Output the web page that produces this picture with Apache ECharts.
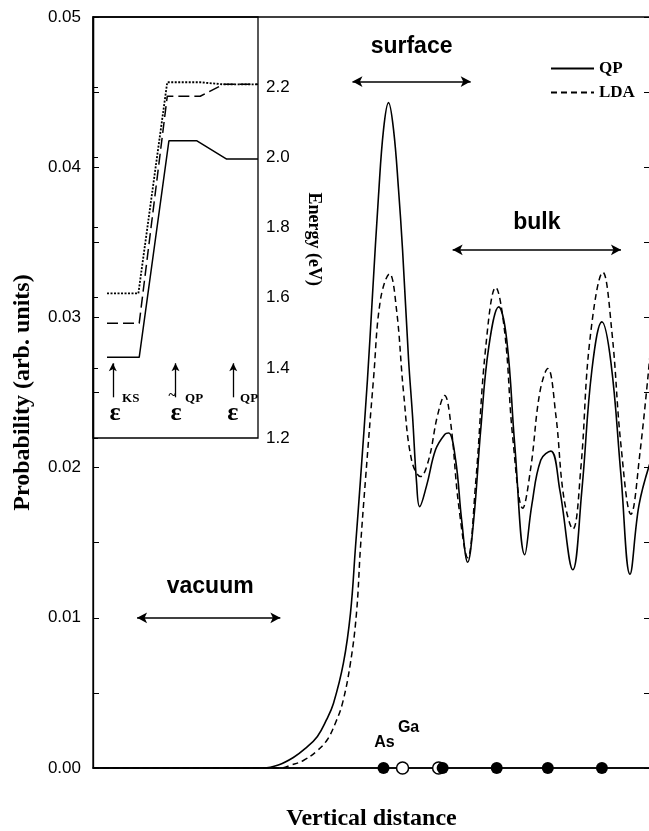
<!DOCTYPE html>
<html>
<head>
<meta charset="utf-8">
<script src="https://cdn.jsdelivr.net/npm/echarts@6/dist/echarts.min.js"></script>
<style>
  html, body { margin: 0; padding: 0; background: #fff; }
  #main { width: 649px; height: 831px; }
</style>
</head>
<body>
<div id="main"></div>
<script>
// main panel: probability vs vertical distance (arbitrary distance units)
var qpCurve = [
  [0, 0], [150, 0], [170, 0], [185, 0.0002], [200, 0.0007], [212, 0.0013], [224, 0.0021],
  [233, 0.0032], [240, 0.0043], [250, 0.0070], [257, 0.0103], [262, 0.0147], [267, 0.0192],
  [274, 0.0259], [279, 0.0315], [285, 0.0381], [290, 0.0425], [295, 0.0443], [300, 0.0425],
  [305, 0.0385], [309, 0.0345], [315, 0.0272], [319, 0.0234], [323, 0.0190], [326, 0.0174],
  [333, 0.0188], [342, 0.0212], [351, 0.0222], [355, 0.0223], [362, 0.0205], [368, 0.0165],
  [374, 0.0137], [380, 0.0165], [387, 0.0225], [395, 0.0280], [405, 0.0307], [413, 0.0285],
  [421, 0.0215], [431, 0.0142], [438, 0.0175], [447, 0.0205], [457, 0.0211], [466, 0.0185],
  [479, 0.0132], [488, 0.0185], [498, 0.0265], [508, 0.0297], [517, 0.0270], [527, 0.0195],
  [536, 0.0129], [545, 0.0175], [556, 0.0203]
];
var ldaCurve = [
  [0, 0], [150, 0], [187, 0], [198, 0.0002], [210, 0.0005], [223, 0.0011], [234, 0.0019],
  [242, 0.0030], [249, 0.0043], [257, 0.0070], [263, 0.0103], [267, 0.0147], [272, 0.0192],
  [280, 0.0259], [287, 0.0312], [296, 0.0329], [303, 0.0305], [310, 0.0250], [318, 0.0205],
  [327, 0.0194], [335, 0.0205], [344, 0.0235], [351, 0.0248], [357, 0.0230], [365, 0.0175],
  [374, 0.0140], [382, 0.0190], [392, 0.0280], [402, 0.0320], [411, 0.0290], [419, 0.0220],
  [429, 0.0173], [437, 0.0200], [446, 0.0250], [454, 0.0266], [462, 0.0235], [470, 0.0180],
  [479, 0.0159], [487, 0.0200], [496, 0.0285], [509, 0.0330], [518, 0.0290], [527, 0.0215],
  [537, 0.0169], [546, 0.0210], [556, 0.0275]
];
// atom positions along the distance axis
var atomsFilled = [290, 349, 403, 454, 508];
var atomsOpen = [309, 345];

// inset: energy levels (eV) for eps^KS, eps~^QP, eps^QP
var levelDotted = [[0.85, 1.612], [2.75, 1.612], [4.5, 2.214], [6.5, 2.214], [7.9, 2.208], [10, 2.208]];
var levelDashed = [[0.85, 1.527], [2.8, 1.527], [4.5, 2.174], [6.5, 2.174], [7.9, 2.208], [10, 2.208]];
var levelSolid = [[0.85, 1.43], [2.8, 1.43], [4.6, 2.047], [6.3, 2.047], [8.1, 1.995], [10, 1.995]];
var levelArrowX = [1.2, 5.0, 8.5];

var serif = 'Liberation Serif';
var sans = 'Liberation Sans';

var chart = echarts.init(document.getElementById('main'));

var option = {
  backgroundColor: '#fff',
  animation: false,
  legend: {
    data: ['QP', 'LDA'],
    orient: 'vertical',
    left: 545, top: 55,
    itemWidth: 43, itemHeight: 14, itemGap: 7,
    itemStyle: { opacity: 0 },
    textStyle: { fontFamily: serif, fontWeight: 'bold', fontSize: 17, color: '#000' }
  },
  grid: [
    { left: 93, top: 17, right: -1, bottom: 63, outerBoundsMode: 'none',
      show: true, borderColor: '#000', borderWidth: 1.3 },
    { left: 93, top: 17, width: 165, height: 421, outerBoundsMode: 'none',
      show: true, borderColor: '#000', borderWidth: 1.3 }
  ],
  xAxis: [
    {
      gridIndex: 0, type: 'value', min: 0, max: 556,
      axisLine: { lineStyle: { color: '#000', width: 1.5 } },
      axisTick: { show: false }, axisLabel: { show: false }, splitLine: { show: false },
      name: 'Vertical distance', nameLocation: 'middle', nameGap: 39,
      nameTextStyle: { fontFamily: serif, fontWeight: 'bold', fontSize: 24, color: '#000' }
    },
    { gridIndex: 1, type: 'value', min: 0, max: 10, show: false }
  ],
  yAxis: [
    {
      gridIndex: 0, type: 'value', min: 0, max: 0.05, interval: 0.005,
      axisLine: { show: true, lineStyle: { color: '#000', width: 1.3 } },
      axisTick: { inside: true, length: 6, lineStyle: { color: '#000' } },
      splitLine: { show: false },
      axisLabel: {
        color: '#000', fontFamily: sans, fontSize: 17, margin: 12,
        formatter: function (v) { return Math.round(v * 200) % 2 === 0 ? v.toFixed(2) : ''; }
      },
      name: 'Probability (arb. units)', nameLocation: 'middle', nameGap: 58,
      nameTextStyle: { fontFamily: serif, fontWeight: 'bold', fontSize: 24, color: '#000' }
    },
    {
      gridIndex: 0, type: 'value', position: 'right', min: 0, max: 0.05, interval: 0.005,
      axisLine: { show: true, lineStyle: { color: '#000' } },
      axisTick: { inside: true, length: 6, lineStyle: { color: '#000' } },
      axisLabel: { show: false }, splitLine: { show: false }
    },
    {
      gridIndex: 1, type: 'value', position: 'right', min: 1.2, max: 2.4, interval: 0.2,
      axisLine: { show: true, lineStyle: { color: '#000', width: 1.3 } },
      axisTick: { length: 5, lineStyle: { color: '#000' } },
      splitLine: { show: false },
      axisLabel: {
        color: '#000', fontFamily: sans, fontSize: 17, margin: 8, showMaxLabel: false,
        formatter: function (v) { return v.toFixed(1); }
      }
    }
  ],
  series: [
    {
      name: 'QP', type: 'line', xAxisIndex: 0, yAxisIndex: 0, data: qpCurve,
      smooth: 0.4, symbol: 'none', z: 3,
      itemStyle: { color: '#000' },
      lineStyle: { color: '#000', width: 1.6, type: 'solid' },
      markLine: {
        silent: true, symbol: ['arrow', 'arrow'], symbolSize: [8, 10],
        label: { show: false },
        lineStyle: { color: '#000', width: 1.5, type: 'solid' },
        data: [
          [{ coord: [259, 0.0457] }, { coord: [377, 0.0457] }],
          [{ coord: [359, 0.0345] }, { coord: [527, 0.0345] }],
          [{ coord: [44, 0.0100] }, { coord: [187, 0.0100] }]
        ]
      }
    },
    {
      name: 'LDA', type: 'line', xAxisIndex: 0, yAxisIndex: 0, data: ldaCurve,
      smooth: 0.4, symbol: 'none', z: 3,
      itemStyle: { color: '#000' },
      lineStyle: { color: '#000', width: 1.5, type: [6, 4] }
    },
    {
      name: 'atoms', type: 'scatter', xAxisIndex: 0, yAxisIndex: 0,
      data: atomsOpen.map(function (x) { return [x, 0]; }),
      symbolSize: 12, z: 4,
      itemStyle: { color: '#fff', borderColor: '#000', borderWidth: 1.5, opacity: 1 }
    },
    {
      name: 'atoms2', type: 'scatter', xAxisIndex: 0, yAxisIndex: 0,
      data: atomsFilled.map(function (x) { return [x, 0]; }),
      symbolSize: 12, z: 5,
      itemStyle: { color: '#000', opacity: 1 }
    },
    {
      name: 'dotted', type: 'line', xAxisIndex: 1, yAxisIndex: 2, data: levelDotted,
      symbol: 'none', lineStyle: { color: '#000', width: 1.8, type: [2, 1.5] }
    },
    {
      name: 'dashed', type: 'line', xAxisIndex: 1, yAxisIndex: 2, data: levelDashed,
      symbol: 'none', lineStyle: { color: '#000', width: 1.5, type: [11, 5] }
    },
    {
      name: 'solid', type: 'line', xAxisIndex: 1, yAxisIndex: 2, data: levelSolid,
      symbol: 'none', lineStyle: { color: '#000', width: 1.5 },
      markLine: {
        silent: true, symbol: ['none', 'arrow'], symbolSize: [6, 8],
        label: { show: false },
        lineStyle: { color: '#000', width: 1.3, type: 'solid' },
        data: levelArrowX.map(function (x) {
          return [{ coord: [x, 1.316] }, { coord: [x, 1.413] }];
        })
      }
    }
  ]
};

chart.setOption(option);

// text annotations placed through the axes
function px(g, pt) { return chart.convertToPixel({ gridIndex: g }, pt); }
function txt(pos, s, style, extra) {
  var o = {
    type: 'text', x: pos[0], y: pos[1], z: 10,
    style: Object.assign({ text: s, fill: '#000', align: 'center', verticalAlign: 'middle' }, style)
  };
  return Object.assign(o, extra || {});
}
var regionFont = { font: 'bold 23px "Liberation Sans"' };
var atomFont = { font: 'bold 16px "Liberation Sans"' };
var epsFont = { font: 'bold 26px "Liberation Serif"' };
var supFont = { font: 'bold 13px "Liberation Serif"', align: 'left' };

var g = [
  txt(px(0, [318, 0.0480]), 'surface', regionFont),
  txt(px(0, [443, 0.0363]), 'bulk', regionFont),
  txt(px(0, [117, 0.0121]), 'vacuum', regionFont),
  txt(px(0, [291, 0.0017]), 'As', atomFont),
  txt(px(0, [315, 0.0027]), 'Ga', atomFont),
  txt(px(0, [220, 0.0352]), 'Energy (eV)', { font: 'bold 18px "Liberation Serif"' }, { rotation: -Math.PI / 2 }),
  txt(px(1, [1.33, 1.271]), '\u03b5', epsFont),
  txt(px(1, [1.76, 1.313]), 'KS', supFont),
  txt(px(1, [4.8, 1.318]), '~', { font: 'bold 14px "Liberation Serif"' }),
  txt(px(1, [5.03, 1.271]), '\u03b5', epsFont),
  txt(px(1, [5.58, 1.313]), 'QP', supFont),
  txt(px(1, [8.48, 1.271]), '\u03b5', epsFont),
  txt(px(1, [8.91, 1.313]), 'QP', supFont)
];
chart.setOption({ graphic: g });
</script>
</body>
</html>
